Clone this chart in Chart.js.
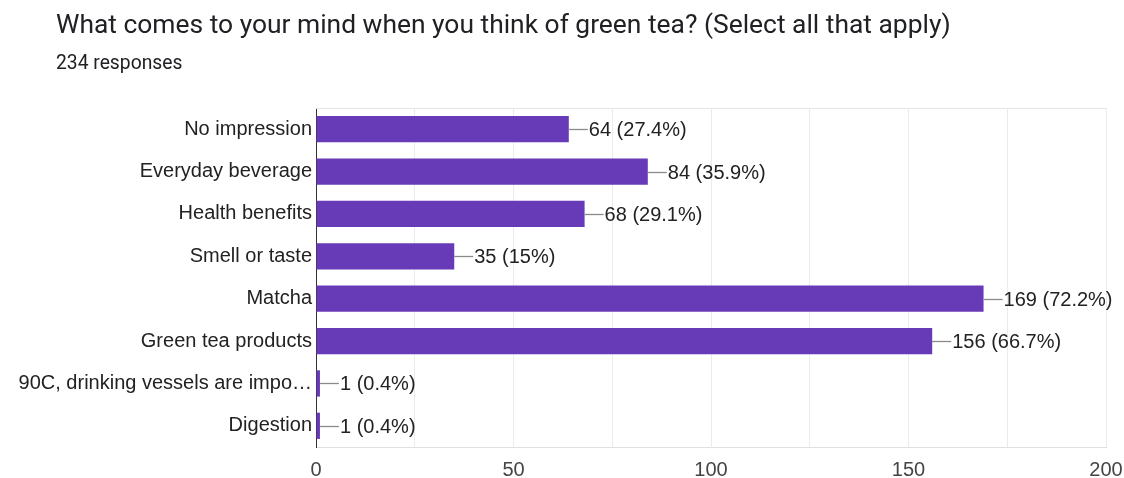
<!DOCTYPE html>
<html>
<head>
<meta charset="utf-8">
<script src="https://cdn.jsdelivr.net/npm/chart.js@4.4.1/dist/chart.umd.min.js"></script>
<style>
  html, body { margin: 0; padding: 0; background: #fff; }
  #wrap { position: relative; width: 1124px; height: 478px; }
  #title { position: absolute; left: 56px; top: 9px; font-family: Roboto, "Noto Sans", sans-serif; font-size: 26.4px; color: #202124; white-space: nowrap; }
  #subtitle { position: absolute; left: 56px; top: 51px; font-family: Roboto, "Noto Sans", sans-serif; font-size: 19.3px; color: #202124; white-space: nowrap; }
  canvas { position: absolute; left: 0; top: 0; }
</style>
</head>
<body>
<div id="wrap">
  <canvas id="c" width="1124" height="478"></canvas>
  <div id="title">What comes to your mind when you think of green tea? (Select all that apply)</div>
  <div id="subtitle">234 responses</div>
</div>
<script>
const categories = [
  "No impression",
  "Everyday beverage",
  "Health benefits",
  "Smell or taste",
  "Matcha",
  "Green tea products",
  "90C, drinking vessels are impo\u2026",
  "Digestion"
];
const counts = [64, 84, 68, 35, 169, 156, 1, 1];
const percentLabels = ["27.4%", "35.9%", "29.1%", "15%", "72.2%", "66.7%", "0.4%", "0.4%"];
const xTicks = [0, 50, 100, 150, 200];

const FONT = '"Liberation Sans", Arial, sans-serif';

const valueLabels = {
  id: 'valueLabels',
  beforeDatasetsDraw(chart) {
    const { ctx, chartArea } = chart;
    ctx.save();
    ctx.strokeStyle = '#e6e6e6';
    ctx.lineWidth = 1;
    ctx.beginPath();
    ctx.moveTo(chartArea.left, chartArea.top + 0.5);
    ctx.lineTo(chartArea.right, chartArea.top + 0.5);
    ctx.stroke();
    ctx.restore();
  },
  afterDatasetsDraw(chart) {
    const { ctx } = chart;
    const meta = chart.getDatasetMeta(0);
    ctx.save();
    ctx.font = '20px ' + FONT;
    ctx.fillStyle = '#222';
    ctx.textBaseline = 'middle';
    ctx.textAlign = 'left';
    meta.data.forEach((bar, i) => {
      const x = bar.x, y = Math.round(bar.y) + 0.5;
      ctx.strokeStyle = '#8a8a8a';
      ctx.lineWidth = 1.3;
      ctx.beginPath();
      ctx.moveTo(x, y);
      ctx.lineTo(x + 19, y);
      ctx.stroke();
      ctx.fillText(counts[i] + ' (' + percentLabels[i] + ')', x + 20, y + 1);
    });
    ctx.restore();
  }
};

new Chart(document.getElementById('c'), {
  type: 'bar',
  data: {
    labels: categories,
    datasets: [{
      data: counts,
      backgroundColor: '#673ab7',
      borderWidth: 0,
      barPercentage: 0.62,
      categoryPercentage: 1.0
    }]
  },
  options: {
    indexAxis: 'y',
    responsive: false,
    animation: false,
    events: [],
    layout: { padding: { left: 0, right: 18, top: 108, bottom: 0 } },
    plugins: {
      legend: { display: false },
      tooltip: { enabled: false },
      title: { display: false }
    },
    scales: {
      x: {
        min: 0,
        max: 200,
        afterFit: (s) => { s.height = 31; s.paddingRight = 0; },
        grid: {
          drawTicks: false,
          color: (c) => (c.tick && c.tick.value === 0) ? 'rgba(0,0,0,0)' : '#ebebeb'
        },
        border: { color: '#e0e0e0' },
        ticks: {
          stepSize: 25,
          padding: 11,
          color: '#444',
          font: { family: FONT, size: 20 },
          maxRotation: 0,
          autoSkip: false,
          callback: (v) => xTicks.includes(v) ? String(v) : ''
        }
      },
      y: {
        grid: { display: false, drawTicks: false },
        border: { color: '#333', width: 1 },
        afterFit: (s) => { s.width = 316; },
        ticks: {
          padding: 4,
          color: '#222',
          font: { family: FONT, size: 20 },
          autoSkip: false
        }
      }
    }
  },
  plugins: [valueLabels]
});
</script>
</body>
</html>
